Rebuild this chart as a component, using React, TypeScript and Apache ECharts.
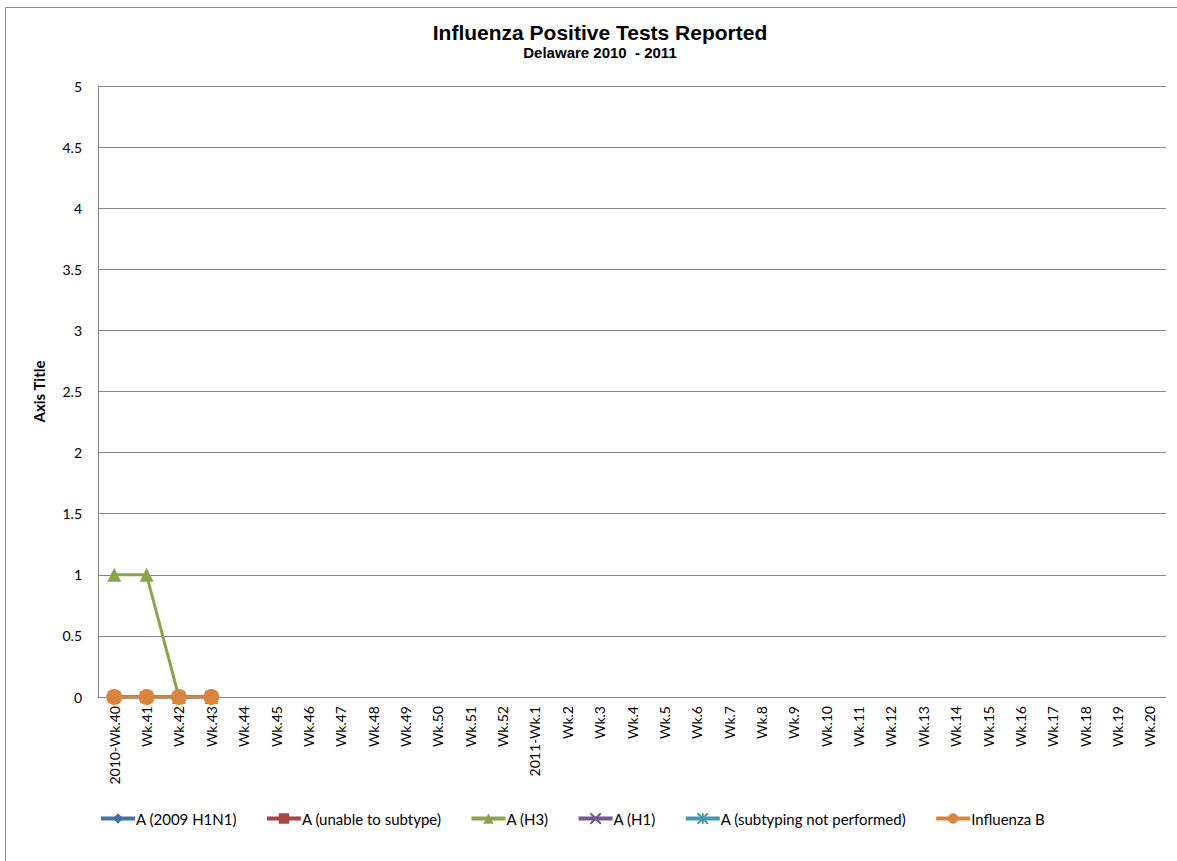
import React, { useEffect, useRef } from "react";
import * as echarts from "echarts";

const categories = [
  "2010-Wk.40", "Wk.41", "Wk.42", "Wk.43", "Wk.44", "Wk.45", "Wk.46", "Wk.47", "Wk.48",
  "Wk.49", "Wk.50", "Wk.51", "Wk.52", "2011-Wk.1", "Wk.2", "Wk.3", "Wk.4", "Wk.5", "Wk.6",
  "Wk.7", "Wk.8", "Wk.9", "Wk.10", "Wk.11", "Wk.12", "Wk.13", "Wk.14", "Wk.15", "Wk.16",
  "Wk.17", "Wk.18", "Wk.19", "Wk.20",
];

const seriesNames = [
  "A (2009 H1N1)",
  "A (unable to subtype)",
  "A (H3)",
  "A (H1)",
  "A (subtyping not performed)",
  "Influenza B",
];

const h1n1Values = [0, 0, 0, 0];
const unableValues = [0, 0, 0, 0];
const h3Values = [1, 1, 0, 0];
const h1Values = [0, 0, 0, 0];
const notPerformedValues = [0, 0, 0, 0];
const fluBValues = [0, 0, 0, 0];

const yTicks = { min: 0, max: 5, interval: 0.5 };

const colors = ["#4572A7", "#AA4643", "#89A54E", "#71588F", "#4198AF", "#DB843D"];
const symbols = [
  "diamond",
  "rect",
  "triangle",
  "path://M0,0L10,10M10,0L0,10",
  "path://M0,0L10,10M10,0L0,10M5,0L5,10M0,5L10,5",
  "circle",
];
const symbolSizes = [12, 12, 14, 11, 11, 16];

export default function App() {
  const ref = useRef<HTMLDivElement>(null);
  useEffect(() => {
    if (!ref.current) return;
    const chart = echarts.init(ref.current, null, { renderer: "svg" });
    const dataSets = [h1n1Values, unableValues, h3Values, h1Values, notPerformedValues, fluBValues];
    const axisFont = "Lato, 'Noto Sans', sans-serif";
    chart.setOption({
      animation: false,
      backgroundColor: "#ffffff",
      graphic: [
        {
          type: "rect",
          shape: { x: 5.5, y: 7.5, width: 1300, height: 1000 },
          style: { fill: "none", stroke: "#8c8c8c", lineWidth: 1 },
          silent: true,
          z: -1,
        },
      ],
      title: {
        text: "Influenza Positive Tests Reported",
        subtext: "Delaware 2010  - 2011",
        left: 595,
        textAlign: "center",
        top: 17,
        itemGap: 2,
        textStyle: {
          fontFamily: "'Liberation Sans', Arial, sans-serif",
          fontWeight: "bold",
          fontSize: 21,
          color: "#000",
        },
        subtextStyle: {
          fontFamily: "'Liberation Sans', Arial, sans-serif",
          fontWeight: "bold",
          fontSize: 15,
          color: "#000",
        },
      },
      legend: {
        data: seriesNames,
        bottom: 30,
        left: 94,
        itemWidth: 34,
        itemHeight: 13,
        itemGap: 28,
        lineStyle: { width: 4 },
        textStyle: { fontFamily: axisFont, fontSize: 15, color: "#000", padding: [0, 0, 0, -4] },
      },
      grid: { left: 98, right: 11, top: 86, bottom: 164, containLabel: false },
      xAxis: {
        type: "category",
        data: categories,
        boundaryGap: true,
        axisLine: { lineStyle: { color: "#868686", width: 1 } },
        axisTick: { show: false },
        axisLabel: {
          rotate: 90,
          interval: 0,
          margin: 9,
          fontFamily: axisFont,
          fontSize: 14,
          color: "#000",
        },
      },
      yAxis: {
        type: "value",
        min: yTicks.min,
        max: yTicks.max,
        interval: yTicks.interval,
        name: "Axis Title",
        nameLocation: "middle",
        nameGap: 52,
        nameRotate: 90,
        nameTextStyle: { fontFamily: axisFont, fontWeight: "bold", fontSize: 15, color: "#000" },
        axisLine: { show: true, lineStyle: { color: "#868686", width: 1 } },
        axisTick: { show: false },
        splitLine: { lineStyle: { color: "#868686", width: 1 } },
        axisLabel: { margin: 16, fontFamily: axisFont, fontSize: 14, color: "#000" },
      },
      series: seriesNames.map((name, i) => ({
        name,
        type: "line",
        data: dataSets[i],
        symbol: symbols[i],
        symbolSize: symbolSizes[i],
        showSymbol: true,
        lineStyle: { color: colors[i], width: 3 },
        itemStyle: {
          color: colors[i],
          borderColor: colors[i],
          borderWidth: i === 3 || i === 4 ? 2 : 0,
        },
        z: 2 + i,
      })),
    });
    return () => chart.dispose();
  }, []);
  return (
    <div
      ref={ref}
      style={{ position: "fixed", left: 0, top: 0, width: 1177, height: 861 }}
    />
  );
}
